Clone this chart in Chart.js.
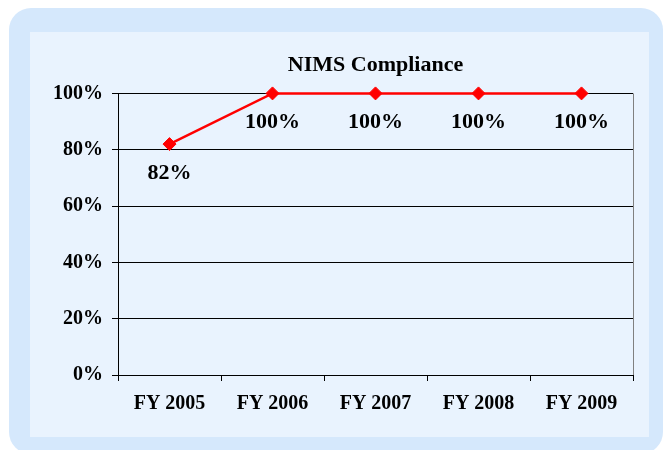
<!DOCTYPE html>
<html>
<head>
<meta charset="utf-8">
<script src="https://cdn.jsdelivr.net/npm/chart.js@4/dist/chart.umd.min.js"></script>
<style>
  body { margin: 0; background: #ffffff; width: 664px; height: 450px; overflow: hidden; position: relative; }
  #frame { position: absolute; left: 9px; top: 8px; width: 654px; height: 446px; background: #d5e8fc; border-radius: 22px; }
  #panel { position: absolute; left: 30px; top: 32px; width: 619px; height: 405px; background: #e9f3fe; }
  #myChart { display: block; }
</style>
</head>
<body>
<div id="frame"></div>
<div id="panel"><canvas id="myChart" width="619" height="405"></canvas></div>
<script>
// DATA
const categories = ['FY 2005', 'FY 2006', 'FY 2007', 'FY 2008', 'FY 2009'];
const compliance = [82, 100, 100, 100, 100];
const yMin = 0;
const yMax = 100;
const yStep = 20;

const serif = '"Liberation Serif", "Times New Roman", serif';

// labels under each point
const valueLabels = {
    id: 'valueLabels',
    afterDatasetsDraw(chart) {
        const ctx = chart.ctx;
        const meta = chart.getDatasetMeta(0);
        ctx.save();
        ctx.font = 'bold 22px ' + serif;
        ctx.fillStyle = '#000';
        ctx.textAlign = 'center';
        ctx.textBaseline = 'middle';
        meta.data.forEach(function (pt, i) {
            ctx.fillText(compliance[i] + '%', pt.x, pt.y + 29);
        });
        ctx.restore();
    }
};

const mainChart = new Chart('myChart', {
    type: 'line',
    data: {
        labels: categories,
        datasets: [{
            data: compliance,
            borderColor: '#ff0000',
            backgroundColor: '#ff0000',
            borderWidth: 2.5,
            pointStyle: 'rectRot',
            pointRadius: 6.5,
            pointBorderWidth: 1,
            pointBorderColor: '#ff0000',
            pointBackgroundColor: '#ff0000',
            tension: 0,
            clip: false
        }]
    },
    options: {
        responsive: false,
        animation: false,
        layout: { padding: { top: 0, left: 0, right: 16, bottom: 0 } },
        plugins: {
            legend: { display: false },
            tooltip: { enabled: false },
            title: {
                display: true,
                text: 'NIMS Compliance',
                fullSize: false,
                color: '#000',
                font: { family: serif, size: 22, weight: 'bold', lineHeight: 1.2 },
                padding: { top: 20, bottom: 15 }
            }
        },
        scales: {
            x: {
                offset: true,
                afterFit: function (s) { s.height = 62; },
                grid: {
                    offset: true,
                    drawOnChartArea: true,
                    color: function (c) { return c.type === 'scale' ? '#808080' : 'rgba(0,0,0,0)'; },
                    tickColor: '#000',
                    tickLength: 6,
                    lineWidth: 1
                },
                border: { display: true, color: '#000', width: 1 },
                ticks: {
                    color: '#000',
                    padding: 11,
                    maxRotation: 0,
                    font: { family: serif, size: 20, weight: 'bold' }
                }
            },
            y: {
                min: yMin,
                max: yMax,
                afterFit: function (s) { s.width = 88; },
                grid: {
                    color: '#000',
                    tickColor: '#000',
                    tickLength: 6,
                    lineWidth: 1
                },
                border: { display: true, color: '#000', width: 1 },
                ticks: {
                    stepSize: yStep,
                    color: '#000',
                    padding: 9,
                    font: { family: serif, size: 20, weight: 'bold' },
                    callback: function (v) { return v + '%'; }
                }
            }
        }
    },
    plugins: [valueLabels]
});
</script>
</body>
</html>
